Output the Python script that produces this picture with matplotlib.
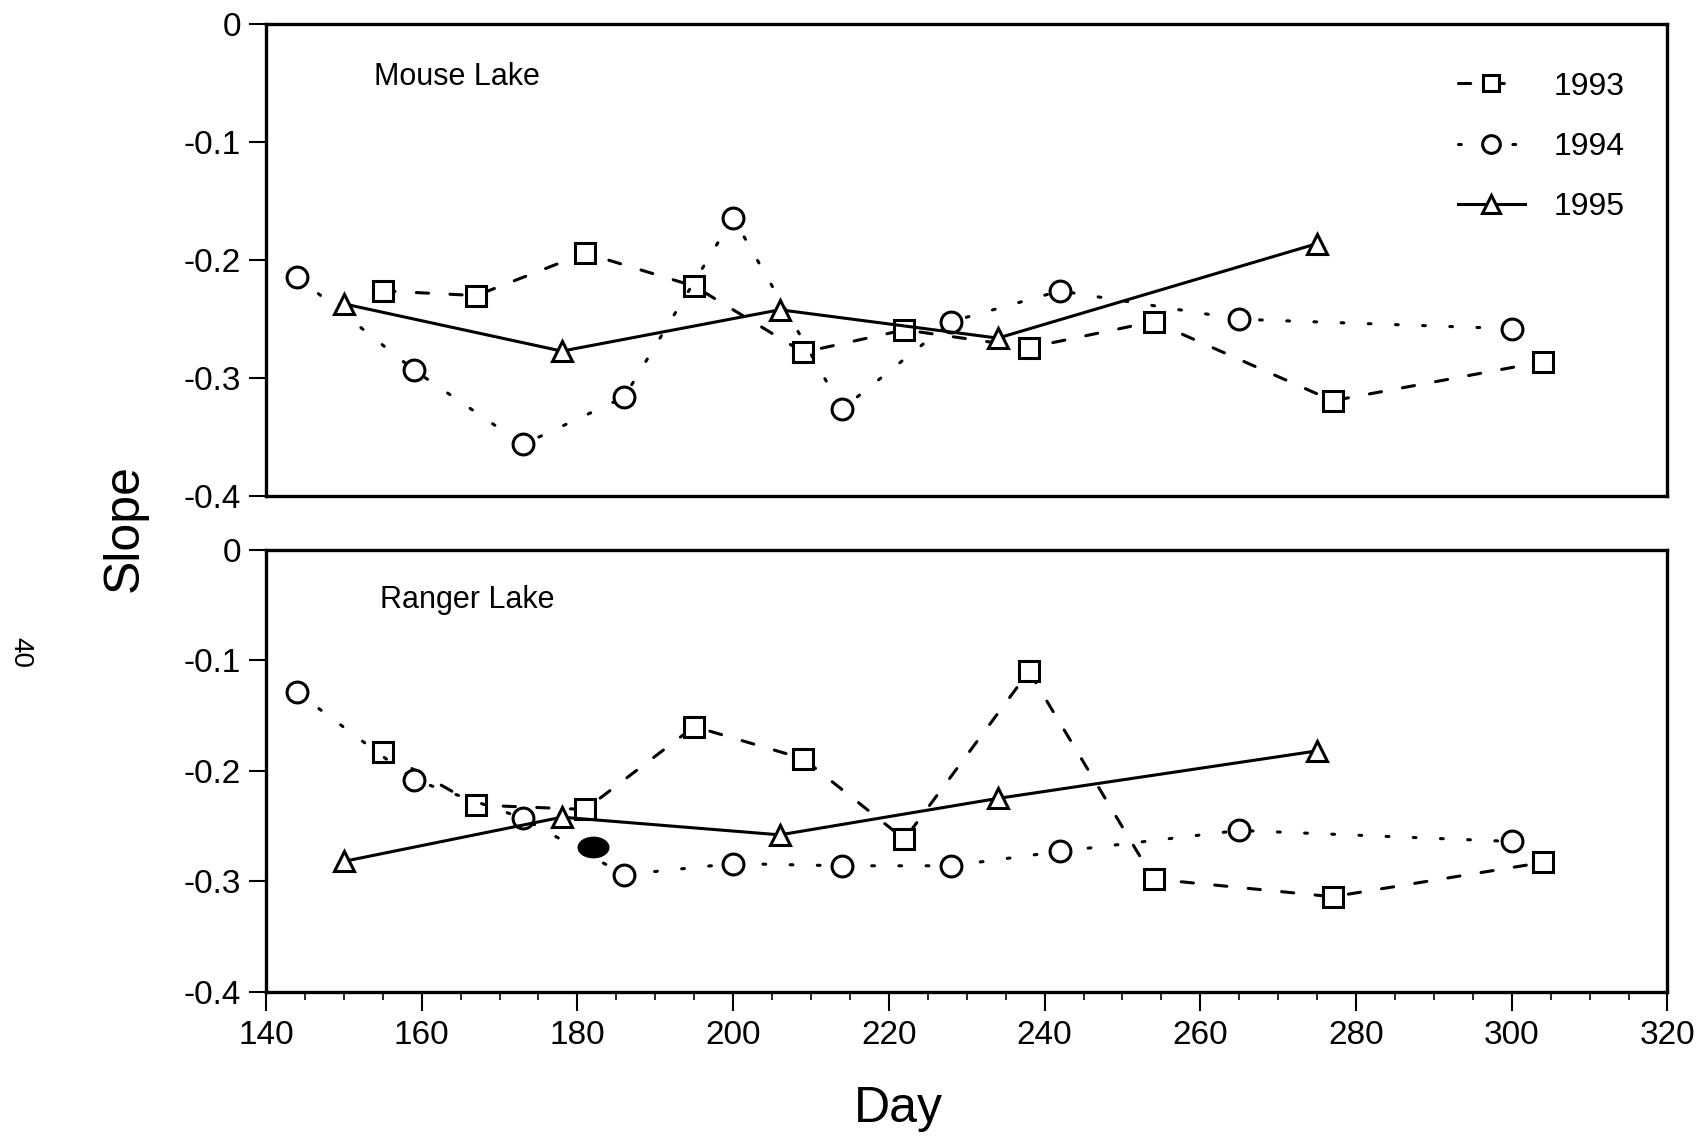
"""Slope vs day for Mouse Lake and Ranger Lake, 1993-1995."""

import matplotlib
matplotlib.use("Agg")
import matplotlib.pyplot as plt
from matplotlib.ticker import MultipleLocator, FixedLocator
from matplotlib.path import Path
from matplotlib.transforms import Affine2D

plt.rcParams['font.family'] = ['Liberation Sans', 'DejaVu Sans']

# Mouse Lake
mouse_day_1993 = [155, 167, 181, 195, 209, 222, 238, 254, 277, 304]
mouse_slope_1993 = [-0.226, -0.230, -0.194, -0.222, -0.278, -0.259, -0.274, -0.252, -0.319, -0.286]
mouse_day_1994 = [144, 159, 173, 186, 200, 214, 228, 242, 265, 300]
mouse_slope_1994 = [-0.214, -0.293, -0.356, -0.316, -0.164, -0.326, -0.252, -0.226, -0.250, -0.258]
mouse_day_1995 = [150, 178, 206, 234, 275]
mouse_slope_1995 = [-0.237, -0.277, -0.242, -0.266, -0.186]

# Ranger Lake
ranger_day_1993 = [155, 167, 181, 195, 209, 222, 238, 254, 277, 304]
ranger_slope_1993 = [-0.183, -0.231, -0.235, -0.160, -0.189, -0.262, -0.110, -0.298, -0.314, -0.283]
ranger_day_1994 = [144, 159, 173, 186, 200, 214, 228, 242, 265, 300]
ranger_slope_1994 = [-0.129, -0.208, -0.243, -0.294, -0.284, -0.286, -0.286, -0.273, -0.254, -0.264]
ranger_day_1995 = [150, 178, 206, 234, 275]
ranger_slope_1995 = [-0.282, -0.242, -0.258, -0.225, -0.182]
ranger_blot_day = [182]
ranger_blot_slope = [-0.269]

years = ['1993', '1994', '1995']
x_ticks = [140, 160, 180, 200, 220, 240, 260, 280, 300, 320]
y_ticks = [0, -0.1, -0.2, -0.3, -0.4]

styles = {
    '1993': dict(marker='s', linestyle=(0, (4, 7)), markersize=14),
    '1994': dict(marker='o', linestyle=(0, (0.9, 8)), markersize=15),
    '1995': dict(marker='^', linestyle='-', markersize=15),
}

fig = plt.figure(figsize=(17.05, 11.36), dpi=100)
ax_top = fig.add_axes([0.156, 0.563, 0.822, 0.416])
ax_bot = fig.add_axes([0.156, 0.127, 0.822, 0.389])


def draw(ax, series):
    handles = []
    for yr, (d, s) in zip(years, series):
        st = styles[yr]
        h, = ax.plot(d, s, color='black', lw=2.2, marker=st['marker'],
                     markersize=st['markersize'], markerfacecolor='white',
                     markeredgecolor='black', markeredgewidth=2.2,
                     linestyle=st['linestyle'], dash_capstyle='round', label=yr)
        handles.append(h)
    ax.set_xlim(140, 320)
    ax.set_ylim(-0.4, 0)
    ax.yaxis.set_major_locator(FixedLocator(y_ticks))
    ax.set_yticklabels(['0', '-0.1', '-0.2', '-0.3', '-0.4'])
    for sp in ax.spines.values():
        sp.set_linewidth(2.4)
    ax.tick_params(axis='y', direction='out', length=12, width=1.5,
                   labelsize=24, pad=6)
    return handles


handles = draw(ax_top, [(mouse_day_1993, mouse_slope_1993),
                        (mouse_day_1994, mouse_slope_1994),
                        (mouse_day_1995, mouse_slope_1995)])
ax_top.set_xticks([])
ax_top.text(0.077, 0.888, 'Mouse Lake', transform=ax_top.transAxes,
            fontsize=22, ha='left', va='center')
ax_top.legend(handles=handles, loc='upper right', frameon=False, fontsize=23,
              bbox_to_anchor=(0.99, 0.96), handlelength=2.1, labelspacing=0.95,
              handletextpad=0.9, markerscale=0.85)

draw(ax_bot, [(ranger_day_1993, ranger_slope_1993),
              (ranger_day_1994, ranger_slope_1994),
              (ranger_day_1995, ranger_slope_1995)])
# wide filled ellipse mark on the 1994 line
ellipse = Path.unit_circle().transformed(Affine2D().scale(1.5, 1.0))
ax_bot.plot(ranger_blot_day, ranger_blot_slope, linestyle='none', marker=ellipse,
            markersize=22, color='black', zorder=5)
ax_bot.xaxis.set_major_locator(FixedLocator(x_ticks))
ax_bot.xaxis.set_minor_locator(MultipleLocator(5))
ax_bot.tick_params(axis='x', which='major', direction='out', length=14,
                   width=1.5, labelsize=24, pad=6)
ax_bot.tick_params(axis='x', which='minor', direction='out', length=6, width=1.2)
ax_bot.text(0.081, 0.887, 'Ranger Lake', transform=ax_bot.transAxes,
            fontsize=22, ha='left', va='center')

fig.text(0.073, 0.535, 'Slope', rotation=90, fontsize=36, ha='center', va='center')
fig.text(0.527, 0.024, 'Day', fontsize=36, ha='center', va='center')
fig.text(0.012, 0.426, '40', rotation=-90, fontsize=20, ha='center', va='center')

fig.savefig('out.png', dpi=100)
plt.close(fig)
